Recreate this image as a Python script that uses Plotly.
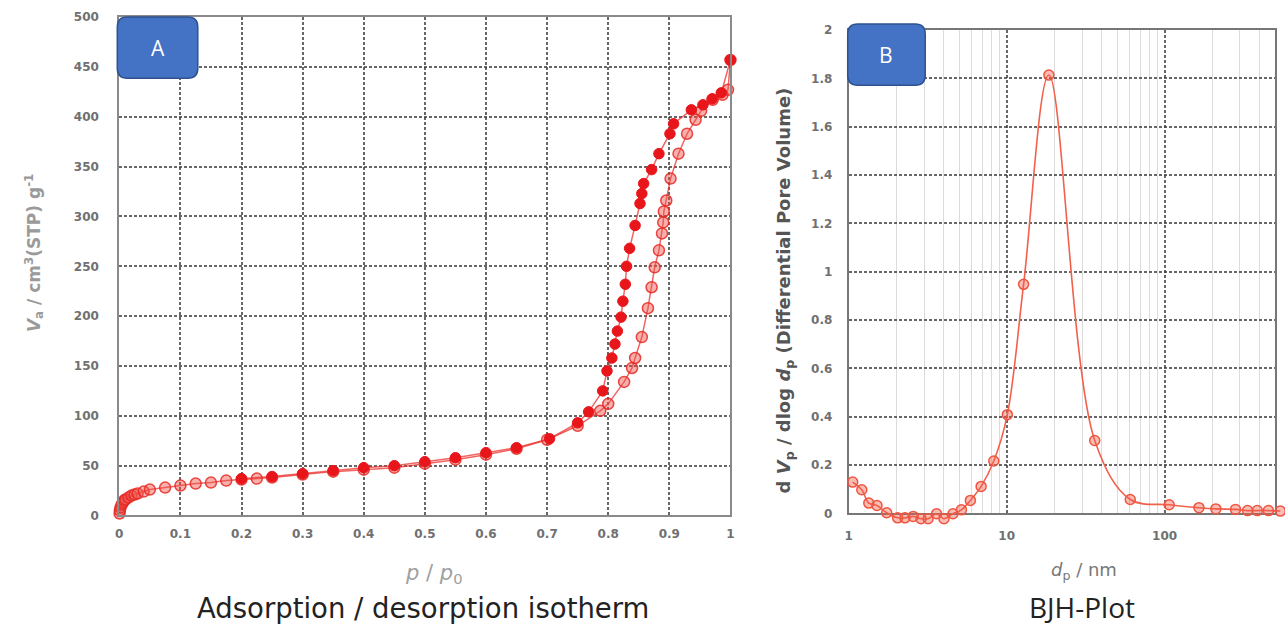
import plotly.graph_objects as go
import math

# ---------------- data ----------------
ads_p = [0.0005, 0.001, 0.002, 0.004, 0.006, 0.008, 0.01, 0.015, 0.02, 0.025, 0.03, 0.04, 0.05,
         0.075, 0.1, 0.125, 0.15, 0.175, 0.2, 0.225, 0.25, 0.3, 0.35, 0.4, 0.45, 0.5, 0.55, 0.6,
         0.65, 0.7, 0.75, 0.787, 0.80, 0.826, 0.839, 0.844, 0.855, 0.865, 0.871, 0.876, 0.883,
         0.888, 0.890, 0.891, 0.895, 0.902, 0.915, 0.929, 0.943, 0.952, 0.971, 0.987, 0.996, 1.0]
ads_v = [2, 5, 8, 11, 13, 15, 16, 18, 20, 21, 22, 24, 26,
         28, 30, 32, 33, 35, 36, 37, 38, 41, 44, 46, 48, 52, 56, 61,
         67, 76, 90, 105, 112, 134, 148, 158, 179, 208, 229, 249, 266,
         283, 294, 305, 316, 338, 363, 383, 397, 406, 417, 422, 427, 457]

des_p = [1.0, 0.985, 0.97, 0.955, 0.936, 0.907, 0.901, 0.883, 0.871, 0.858, 0.855, 0.852, 0.844,
         0.835, 0.830, 0.828, 0.824, 0.821, 0.815, 0.811, 0.806, 0.798, 0.791, 0.768, 0.75, 0.704,
         0.65, 0.6, 0.55, 0.5, 0.45, 0.4, 0.35, 0.3, 0.25, 0.2]
des_v = [457, 424, 418, 412, 407, 393, 383, 363, 347, 333, 323, 313, 291,
         268, 250, 232, 215, 199, 185, 172, 158, 145, 125, 104, 93, 77,
         68, 63, 58, 54, 50, 48, 45, 42, 39, 37]

bjh_d = [1.06, 1.21, 1.34, 1.51, 1.74, 2.04, 2.27, 2.56, 2.87, 3.18, 3.6, 4.01, 4.57, 5.17, 5.89,
         6.89, 8.29, 10.1, 12.8, 18.5, 36.1, 60.6, 106.8, 165, 211, 281, 335, 386, 454, 540]
bjh_v = [0.13, 0.098, 0.043, 0.033, 0.003, -0.018, -0.018, -0.012, -0.022, -0.022, -0.001, -0.022,
         -0.001, 0.015, 0.054, 0.112, 0.217, 0.409, 0.948, 1.814, 0.302, 0.058, 0.036, 0.024,
         0.019, 0.017, 0.012, 0.012, 0.012, 0.010]

a_xticks = [0, 0.1, 0.2, 0.3, 0.4, 0.5, 0.6, 0.7, 0.8, 0.9, 1]
a_xlabels = ["0", "0.1", "0.2", "0.3", "0.4", "0.5", "0.6", "0.7", "0.8", "0.9", "1"]
a_yticks = [0, 50, 100, 150, 200, 250, 300, 350, 400, 450, 500]
b_xticks = [1, 10, 100]
b_xlabels = ["1", "10", "100"]
b_xminor = [2, 3, 4, 5, 6, 7, 8, 9, 20, 30, 40, 50, 60, 70, 80, 90, 200, 300, 400, 500]
b_yticks = [0, 0.2, 0.4, 0.6, 0.8, 1, 1.2, 1.4, 1.6, 1.8, 2]
b_ylabels = ["0", "0.2", "0.4", "0.6", "0.8", "1", "1.2", "1.4", "1.6", "1.8", "2"]

# ---------------- layout helpers ----------------
W, H = 1285, 629
# the rendered page shows the figure slightly compressed vertically; compensate
V_OFF, V_SC = 6.9, 0.977
def px(x):
    return x / W
def py(y):
    return 1 - ((y - V_OFF) / V_SC) / H

def rounded_box(x0, y0, x1, y1, r):
    rx, ry = r / W, r / (H * V_SC)
    X0, X1 = px(x0), px(x1)
    Y0, Y1 = py(y0), py(y1)
    return (f"M {X0+rx},{Y0} L {X1-rx},{Y0} Q {X1},{Y0} {X1},{Y0-ry} "
            f"L {X1},{Y1+ry} Q {X1},{Y1} {X1-rx},{Y1} L {X0+rx},{Y1} "
            f"Q {X0},{Y1} {X0},{Y1+ry} L {X0},{Y0-ry} Q {X0},{Y0} {X0+rx},{Y0} Z")

GRID = "rgba(65,65,65,0.8)"
TICKFONT = dict(family="DejaVu Sans", size=12, color="#707070", weight="bold")

B_L, B_R, B_T, B_B = 850, 1279, 30, 513
B_PX_PER_UNIT = (B_B - B_T) / 2.0
B_PX_PER_DEC = (B_R - B_L) / math.log10(500)
B_EXT_B = 0.06
B_EXT_R = (W - B_R) / B_PX_PER_DEC

fig = go.Figure()

fig.add_trace(go.Scatter(
    x=ads_p, y=ads_v, mode="lines+markers", xaxis="x", yaxis="y",
    line=dict(color="rgba(235,50,45,0.75)", width=1.5),
    marker=dict(size=11, color="rgba(240,80,70,0.45)", line=dict(color="rgba(230,40,35,0.85)", width=1.5)),
    cliponaxis=False, showlegend=False))
fig.add_trace(go.Scatter(
    x=des_p, y=des_v, mode="lines+markers", xaxis="x", yaxis="y",
    line=dict(color="rgba(235,50,45,0.75)", width=1.5),
    marker=dict(size=10.5, color="#e8161b", line=dict(color="#e8161b", width=1)),
    cliponaxis=False, showlegend=False))

# empty trace keeps the framed BJH subplot alive
fig.add_trace(go.Scatter(x=[], y=[], xaxis="x2", yaxis="y2", showlegend=False, hoverinfo="skip"))

fig.add_trace(go.Scatter(
    x=bjh_d, y=bjh_v, mode="lines+markers", xaxis="x3", yaxis="y3",
    line=dict(color="#f2604c", width=1.6, shape="spline", smoothing=1.0),
    marker=dict(size=10, color="rgba(240,90,70,0.4)", line=dict(color="#ef5540", width=1.5)),
    cliponaxis=False, showlegend=False))

fig.update_layout(
    width=W, height=H, margin=dict(l=0, r=0, t=0, b=0),
    paper_bgcolor="white", plot_bgcolor="rgba(0,0,0,0)",
    xaxis=dict(domain=[px(116), px(731)], range=[0, 1], tickmode="array",
               tickvals=a_xticks, ticktext=a_xlabels, showgrid=True, gridcolor=GRID,
               griddash="3px,2px", gridwidth=1.5, zeroline=False, showline=True, mirror=True,
               linecolor="#8a8a8a", linewidth=2, ticks="", tickfont=TICKFONT,
               ticklabelstandoff=6),
    yaxis=dict(domain=[py(515), py(17)], range=[0, 500], tickmode="array",
               tickvals=a_yticks, showgrid=True, gridcolor=GRID, griddash="3px,2px",
               gridwidth=1.5, zeroline=False, showline=True, mirror=True,
               linecolor="#8a8a8a", linewidth=2, ticks="", tickfont=TICKFONT,
               ticklabelstandoff=16),
    xaxis2=dict(domain=[px(B_L), px(B_R)], type="log", range=[0, math.log10(500)],
                anchor="y2", tickmode="array", tickvals=b_xticks, ticktext=b_xlabels,
                showgrid=True, gridcolor=GRID, griddash="3px,2px", gridwidth=1.5,
                zeroline=False, showline=True, mirror=True, linecolor="#777", linewidth=2,
                ticks="", tickfont=TICKFONT, ticklabelstandoff=10,
                minor=dict(tickmode="array", tickvals=b_xminor, showgrid=True,
                           gridcolor="#dcdcdc", gridwidth=1.2, griddash="solid", ticks="")),
    yaxis2=dict(domain=[py(B_B), py(B_T)], range=[0, 2], anchor="x2", tickmode="array",
                tickvals=b_yticks, ticktext=b_ylabels, showgrid=True, gridcolor=GRID,
                griddash="3px,2px", gridwidth=1.5, zeroline=False, showline=True,
                mirror=True, linecolor="#777", linewidth=2, ticks="", tickfont=TICKFONT,
                ticklabelstandoff=12),
    xaxis3=dict(domain=[px(B_L), 1.0], type="log", range=[0, math.log10(500) + B_EXT_R],
                anchor="y3", visible=False),
    yaxis3=dict(domain=[py(B_B + B_EXT_B * B_PX_PER_UNIT), py(B_T)], range=[-B_EXT_B, 2],
                anchor="x3", visible=False),
)

shapes = [
    dict(type="path", xref="paper", yref="paper", path=rounded_box(114, 17, 195, 78, 10),
         fillcolor="#4472c4", line=dict(color="#2f528f", width=1.5)),
    dict(type="path", xref="paper", yref="paper", path=rounded_box(849, 24, 927, 85, 10),
         fillcolor="#4472c4", line=dict(color="#2f528f", width=1.5)),
]
fig.update_layout(shapes=shapes)

ann = [
    dict(x=px(155), y=py(48), text="A", font=dict(family="Open Sans", size=21, color="white")),
    dict(x=px(888), y=py(55), text="B", font=dict(family="Open Sans", size=21, color="white")),
    dict(x=px(422), y=py(607), text="Adsorption / desorption isotherm",
         font=dict(family="DejaVu Sans", size=27.5, color="#222222")),
    dict(x=px(1085), y=py(606), text="BJH-Plot",
         font=dict(family="Open Sans", size=28, color="#222222")),
    dict(x=px(432), y=py(573), text="<i>p</i> / <i>p</i><sub>0</sub>",
         font=dict(family="DejaVu Sans", size=21, color="#a0a0a0")),
    dict(x=px(1087), y=py(570), text="<i>d</i><sub>p</sub> / nm",
         font=dict(family="DejaVu Sans", size=18, color="#777777")),
    dict(x=px(30), y=py(253), textangle=-90,
         text="<b><i>V</i><sub>a</sub> / cm<sup>3</sup>(STP) g<sup>-1</sup></b>",
         font=dict(family="DejaVu Sans", size=17, color="#9a9a9a")),
    dict(x=px(786), y=py(290), textangle=-90,
         text="<b>d <i>V</i><sub>p</sub> / dlog <i>d</i><sub>p</sub> (Differential Pore Volume)</b>",
         font=dict(family="DejaVu Sans", size=18, color="#555555")),
]
for a in ann:
    a.update(xref="paper", yref="paper", showarrow=False, xanchor="center", yanchor="middle")
fig.update_layout(annotations=ann)

fig.write_html("out.html")
